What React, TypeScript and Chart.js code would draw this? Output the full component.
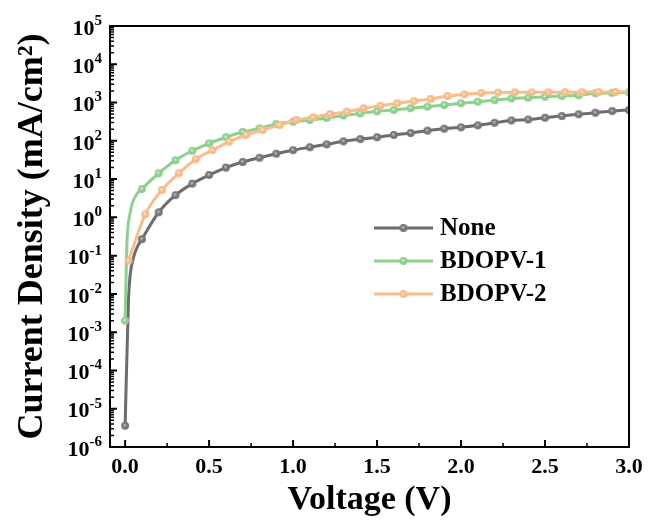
import React, { useEffect, useRef } from 'react';
import { Chart, registerables } from 'chart.js';

Chart.register(...registerables);

// ---------- data ----------
const voltage = [
  0.0, 0.1, 0.2, 0.3, 0.4, 0.5, 0.6, 0.7, 0.8, 0.9, 1.0,
  1.1, 1.2, 1.3, 1.4, 1.5, 1.6, 1.7, 1.8, 1.9, 2.0,
  2.1, 2.2, 2.3, 2.4, 2.5, 2.6, 2.7, 2.8, 2.9, 3.0,
];
const noneCurrent = [
  3.6e-6, 0.27, 1.36, 3.8, 7.6, 12.8, 20, 28, 36, 46, 57,
  68, 81, 97, 111, 124, 142, 160, 184, 207, 225,
  254, 296, 340, 360, 402, 445, 493, 543, 600, 640,
];
const bdopv1Current = [
  2e-3, 5.5, 14.2, 31, 55, 86, 124, 170, 212, 275, 316,
  350, 395, 460, 520, 590, 640, 710, 780, 860, 955,
  1050, 1160, 1280, 1340, 1420, 1480, 1545, 1740, 1800, 1850,
];
const bdopv2Voltage = [
  0.02, 0.12, 0.22, 0.32, 0.42, 0.52, 0.62, 0.72, 0.82, 0.92, 1.02,
  1.12, 1.22, 1.32, 1.42, 1.52, 1.62, 1.72, 1.82, 1.92, 2.02,
  2.12, 2.22, 2.32, 2.42, 2.52, 2.62, 2.72, 2.82, 2.92, 3.02,
];
const bdopv2Current = [
  0.074, 1.2, 5.2, 14.2, 33, 57, 95, 142, 192, 259, 350,
  411, 501, 577, 708, 828, 955, 1097, 1238, 1483, 1640,
  1780, 1820, 1850, 1850, 1860, 1870, 1870, 1880, 1880, 1890,
];
// unmarked points that trace the steep rise close to 0 V
const noneRiseVoltage = [0.02, 0.03, 0.05, 0.07];
const noneRiseCurrent = [0.007, 0.031, 0.09, 0.16];
const bdopv1RiseVoltage = [0.01, 0.03, 0.06];
const bdopv1RiseCurrent = [0.17, 1.3, 3.5];

const seriesNames = ['None', 'BDOPV-1', 'BDOPV-2'];
const yDecades = [-6, -5, -4, -3, -2, -1, 0, 1, 2, 3, 4, 5];
const xTickValues = [0, 0.5, 1.0, 1.5, 2.0, 2.5, 3.0];
const xTickLabels = ['0.0', '0.5', '1.0', '1.5', '2.0', '2.5', '3.0'];
const xMinorTickValues = [0.25, 0.75, 1.25, 1.75, 2.25, 2.75];
const xAxisTitle = 'Voltage (V)';
const yAxisTitle = 'Current Density (mA/cm²)';

// ---------- styles ----------
const FONT = '"Liberation Serif", "Times New Roman", serif';
const lineColors = ['#6c6c6c', '#8ed08e', '#f7bd8b'];
const markerColors = ['#767676', '#8ccf8c', '#f6bb88'];
const markerLights = ['#d0d0d0', '#e2f6e2', '#fff0e2'];

function makeSphere(color: string, light: string, r: number) {
  const c = document.createElement('canvas');
  const d = Math.ceil(r * 2 + 2);
  c.width = d;
  c.height = d;
  const g = c.getContext('2d')!;
  const cx = d / 2, cy = d / 2;
  const grad = g.createRadialGradient(cx - r * 0.15, cy - r * 0.2, r * 0.05, cx, cy, r);
  grad.addColorStop(0, light);
  grad.addColorStop(0.45, color);
  grad.addColorStop(1, color);
  g.fillStyle = grad;
  g.beginPath();
  g.arc(cx, cy, r, 0, Math.PI * 2);
  g.fill();
  return c;
}

type P = { x: number; y: number; m: boolean };
function buildPoints(vs: number[], cs: number[], rv: number[] = [], rc: number[] = []): P[] {
  const pts: P[] = vs.map((v, i) => ({ x: v, y: cs[i], m: true }));
  rv.forEach((v, i) => pts.push({ x: v, y: rc[i], m: false }));
  pts.sort((a, b) => a.x - b.x);
  return pts;
}

export default function App() {
  const ref = useRef<HTMLCanvasElement>(null);

  useEffect(() => {
    const spheres = markerColors.map((c, i) => makeSphere(c, markerLights[i], 4));
    const series = [
      buildPoints(voltage, noneCurrent, noneRiseVoltage, noneRiseCurrent),
      buildPoints(voltage, bdopv1Current, bdopv1RiseVoltage, bdopv1RiseCurrent),
      buildPoints(bdopv2Voltage, bdopv2Current),
    ];

    const decor = {
      id: 'decor',
      afterDatasetsDraw(chart: any) {
        const { ctx, chartArea: a, scales } = chart;
        const xs = scales.x, ys = scales.y;
        ctx.save();
        ctx.strokeStyle = '#000';
        ctx.fillStyle = '#000';
        // frame
        ctx.lineWidth = 2;
        ctx.strokeRect(a.left, a.top, a.right - a.left, a.bottom - a.top);
        // major ticks (inward)
        ctx.beginPath();
        xTickValues.forEach((v) => {
          const px = xs.getPixelForValue(v);
          ctx.moveTo(px, a.bottom);
          ctx.lineTo(px, a.bottom - 7);
        });
        yDecades.forEach((n) => {
          const py = ys.getPixelForValue(Math.pow(10, n));
          ctx.moveTo(a.left, py);
          ctx.lineTo(a.left + 7, py);
        });
        ctx.stroke();
        // minor ticks
        ctx.lineWidth = 1.5;
        ctx.beginPath();
        xMinorTickValues.forEach((v) => {
          const px = xs.getPixelForValue(v);
          ctx.moveTo(px, a.bottom);
          ctx.lineTo(px, a.bottom - 4);
        });
        yDecades.forEach((n) => {
          if (n >= 5) return;
          for (let k = 2; k <= 9; k++) {
            const py = ys.getPixelForValue(k * Math.pow(10, n));
            ctx.moveTo(a.left, py);
            ctx.lineTo(a.left + 4, py);
          }
        });
        ctx.stroke();

        // y tick labels 10^n
        ctx.textBaseline = 'middle';
        ctx.textAlign = 'left';
        const right = a.left - 8;
        yDecades.forEach((n) => {
          const py = ys.getPixelForValue(Math.pow(10, n));
          ctx.font = `bold 22px ${FONT}`;
          const wb = ctx.measureText('10').width;
          ctx.font = `bold 15px ${FONT}`;
          const ex = String(n);
          const we = ctx.measureText(ex).width;
          const sx = right - we - wb;
          ctx.font = `bold 22px ${FONT}`;
          ctx.fillText('10', sx, py + 3);
          ctx.font = `bold 15px ${FONT}`;
          ctx.fillText(ex, sx + wb, py - 5);
        });
        // x tick labels
        ctx.textAlign = 'center';
        ctx.font = `bold 22px ${FONT}`;
        xTickValues.forEach((v, i) => {
          ctx.fillText(xTickLabels[i], xs.getPixelForValue(v), a.bottom + 20);
        });

        // legend
        const lx0 = a.left + 264, lx1 = a.left + 323, tx = a.left + 330;
        seriesNames.forEach((name, i) => {
          const ly = a.top + 202 + i * 33;
          ctx.strokeStyle = lineColors[i];
          ctx.lineWidth = 3;
          ctx.beginPath();
          ctx.moveTo(lx0, ly);
          ctx.lineTo(lx1, ly);
          ctx.stroke();
          const s = spheres[i];
          ctx.drawImage(s, (lx0 + lx1) / 2 - s.width / 2, ly - s.height / 2);
          ctx.fillStyle = '#000';
          ctx.textAlign = 'left';
          ctx.font = `bold 25px ${FONT}`;
          ctx.fillText(name, tx, ly + 1);
        });
        ctx.restore();
      },
    };

    const chart = new Chart(ref.current!, {
      type: 'line',
      data: {
        datasets: series.map((pts, i) => ({
          label: seriesNames[i],
          data: pts.map((p) => ({ x: p.x, y: p.y })),
          borderColor: lineColors[i],
          borderWidth: 3,
          backgroundColor: markerColors[i],
          pointStyle: spheres[i] as any,
          pointRadius: pts.map((p) => (p.m ? 4 : 0)),
          pointBorderWidth: 0,
          cubicInterpolationMode: 'monotone' as const,
          fill: false,
          order: 3 - i,
        })),
      },
      options: {
        responsive: false,
        devicePixelRatio: 1,
        animation: false,
        events: [],
        layout: { padding: { top: 26, right: 20, left: 0, bottom: 0 } },
        plugins: { legend: { display: false }, tooltip: { enabled: false } },
        scales: {
          x: {
            type: 'linear',
            min: -0.09,
            max: 3.0,
            grid: { display: false },
            border: { display: false },
            ticks: { display: false },
            title: {
              display: true,
              text: xAxisTitle,
              color: '#000',
              font: { family: FONT, size: 34, weight: 'bold', lineHeight: 1 },
              padding: { top: 0, bottom: 6 },
            },
            afterFit: (s: any) => { s.height = 76; },
          },
          y: {
            type: 'logarithmic',
            min: 1e-6,
            max: 1e5,
            grid: { display: false },
            border: { display: false },
            ticks: { display: false },
            title: {
              display: true,
              text: yAxisTitle,
              color: '#000',
              font: { family: FONT, size: 36, weight: 'bold', lineHeight: 1 },
              padding: { top: 15, bottom: 0 },
            },
            afterFit: (s: any) => { s.width = 110; },
          },
        },
      },
      plugins: [decor],
    } as any);
    return () => chart.destroy();
  }, []);

  return (
    <div style={{ position: 'fixed', left: 0, top: 0, width: 649, height: 523, background: '#fff' }}>
      <canvas ref={ref} width={649} height={523} style={{ display: 'block', width: 649, height: 523 }} />
    </div>
  );
}
